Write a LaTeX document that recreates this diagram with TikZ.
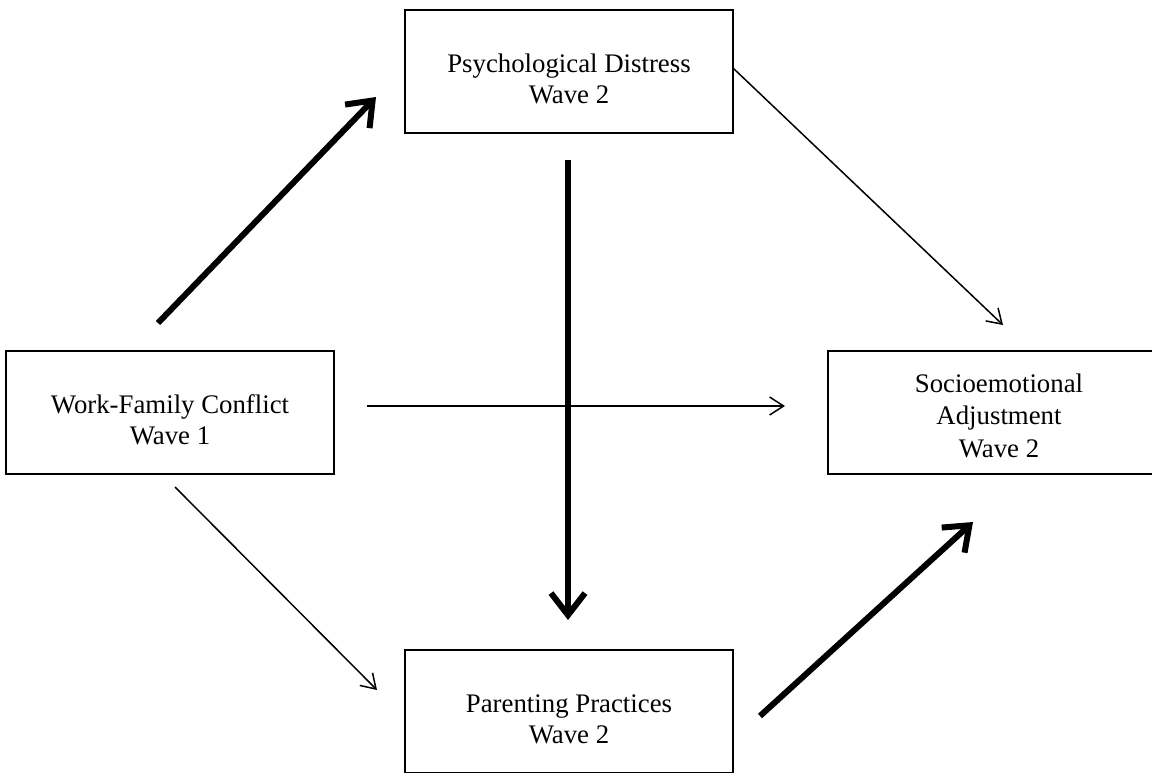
\documentclass[tikz,border=0pt]{standalone}
\usepackage{fontspec}
\setmainfont{Liberation Serif}
\usepackage{tikz}
\usetikzlibrary{arrows.meta}

\begin{document}
\begin{tikzpicture}
 [x=0.5pt, y=-0.5pt,
  var node/.style={rectangle, draw, line width=1pt, align=center, inner sep=0pt,
                   minimum width=164pt, minimum height=61.5pt,
                   text height=37pt, text depth=5pt,
                   font=\fontsize{13.4}{15.5}\selectfont},
  thin arrow/.style={line width=0.75pt, -{Straight Barb[length=7pt,width=9pt]}},
  thick arrow/.style={line width=3pt, -{Straight Barb[length=11pt,width=17pt]}}]

\useasboundingbox (0,0) rectangle (1152,772);

\node[var node] (wf) at (170,412.5) {Work-Family Conflict\\Wave 1};
\node[var node] (psych) at (569,71.5) {Psychological Distress\\Wave 2};
\node[var node] (pp) at (569,711.5) {Parenting Practices\\Wave 2};
\node[var node, minimum width=171pt, text height=46.5pt, text depth=2pt,
      font=\fontsize{13.4}{16.25}\selectfont] (socio) at (999,412.5)
      {Socioemotional\\Adjustment\\Wave 2};

% arrow ends
\coordinate (a1) at (158,323);  \coordinate (b1) at (376,97);
\coordinate (a2) at (568,160);  \coordinate (b2) at (568,620);
\coordinate (a3) at (760,716);  \coordinate (b3) at (973,522);
\coordinate (a4) at (733,68);   \coordinate (b4) at (1003,325);
\coordinate (a5) at (367,406);  \coordinate (b5) at (785,406);
\coordinate (a6) at (175,487);  \coordinate (b6) at (377,690);

\path
  (a1) edge [thick arrow] (b1)
  (a2) edge [thick arrow] (b2)
  (a3) edge [thick arrow] (b3)
  (a4) edge [thin arrow] (b4)
  (a5) edge [thin arrow] (b5)
  (a6) edge [thin arrow] (b6);

\end{tikzpicture}
\end{document}
